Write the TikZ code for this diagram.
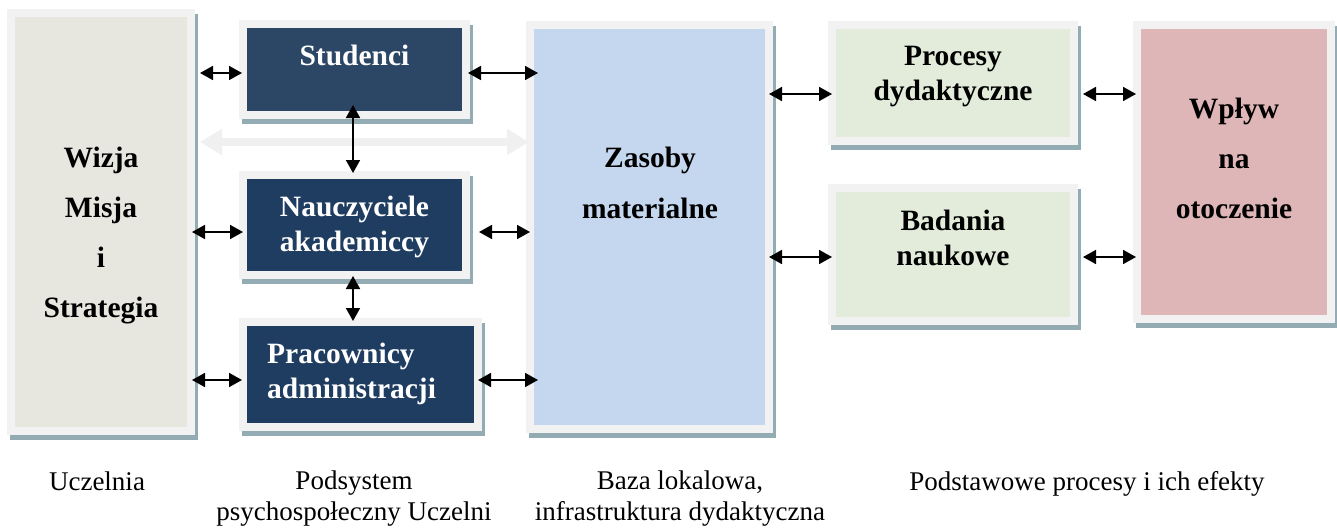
\documentclass[tikz,border=0pt]{standalone}
\usepackage{fontspec}
\setmainfont{Liberation Serif}
\usetikzlibrary{arrows.meta,calc}
\definecolor{framec}{RGB}{242,242,242}
\definecolor{shadowc}{RGB}{147,172,180}
\definecolor{wizjac}{RGB}{231,230,223}
\definecolor{studc}{RGB}{44,70,102}
\definecolor{navyc}{RGB}{31,60,97}
\definecolor{zasobc}{RGB}{197,215,238}
\definecolor{greenc}{RGB}{227,236,218}
\definecolor{pinkc}{RGB}{223,182,183}
\definecolor{widec}{RGB}{240,240,240}
\begin{document}
\begin{tikzpicture}[x=1pt,y=-1pt,
  box/.style={rectangle, draw=framec, line width=8pt, inner sep=0pt,
    preaction={draw=shadowc, fill=shadowc, line width=8pt,
      transform canvas={shift={(3pt,-5pt)}}}},
  conn/.style={line width=1.8pt, {Triangle[length=13pt,width=14pt]}-{Triangle[length=13pt,width=14pt]}},
  widearrow/.style={draw=widec, line width=8pt, {Triangle[length=22pt,width=25pt]}-{Triangle[length=22pt,width=25pt]}},
  blbl/.style={font=\bfseries\fontsize{29.5}{35}\selectfont, align=center, anchor=base, inner sep=0pt},
  tlbl/.style={font=\bfseries\fontsize{29.5}{50}\selectfont, align=center, anchor=base, inner sep=0pt},
  wlbl/.style={blbl, text=white},
  nlbl/.style={font=\fontsize{27}{31}\selectfont, align=center, anchor=base, inner sep=0pt}
]
\useasboundingbox (0,0) rectangle (1337,527);

% boxes
\node[box, fill=wizjac, minimum width=180pt, minimum height=418pt] (wizja) at (101,222) {};
\node[box, fill=studc, minimum width=223pt, minimum height=91pt] (studenci) at (354.5,69.5) {};
\node[box, fill=navyc, minimum width=223pt, minimum height=100pt] (naucz) at (354.5,225) {};
\node[box, fill=navyc, minimum width=235pt, minimum height=105pt] (prac) at (360.5,374.5) {};
\node[box, fill=zasobc, minimum width=239pt, minimum height=404pt] (zasoby) at (649.5,227) {};
\node[box, fill=greenc, minimum width=242pt, minimum height=116pt] (procesy) at (953,83) {};
\node[box, fill=greenc, minimum width=242pt, minimum height=133pt] (badania) at (953,254.5) {};
\node[box, fill=pinkc, minimum width=194pt, minimum height=294pt] (wplyw) at (1234,172) {};

% texts in boxes (anchor=base = baseline of last line)
\node[tlbl] (t-wizja) at (101,317) {Wizja\\Misja\\i\\Strategia};
\node[wlbl] (t-stud) at (354.5,66) {Studenci};
\node[wlbl] (t-naucz) at (354.5,251) {Nauczyciele\\akademiccy};
\node[wlbl, align=left, anchor=base west] (t-prac) at (267,398) {Pracownicy\\administracji};
\node[tlbl, font=\bfseries\fontsize{29.5}{51}\selectfont] (t-zasoby) at (650,218) {Zasoby\\materialne};
\node[blbl] (t-procesy) at (953,100) {Procesy\\dydaktyczne};
\node[blbl] (t-badania) at (953,265) {Badania\\naukowe};
\node[tlbl] (t-wplyw) at (1234,218) {Wpływ\\na\\otoczenie};

% bottom labels
\node[nlbl] (l-uczelnia) at (97,490) {Uczelnia};
\node[nlbl] (l-podsys) at (354,520) {Podsystem\\psychospołeczny Uczelni};
\node[nlbl] (l-baza) at (680,520) {Baza lokalowa,\\infrastruktura dydaktyczna};
\node[nlbl] (l-procesy) at (1087,490) {Podstawowe procesy i ich efekty};

% wide light arrow
\draw[widearrow] ($(wizja.east |- 0,142)+(5,0)$) -- ($(zasoby.west |- 0,142)+(3,0)$);

% connectors
\draw[conn] ($(wizja.east |- 0,73)+(5,0)$) -- ($(studenci.west |- 0,73)+(3,0)$);
\draw[conn] ($(studenci.east |- 0,73)+(-2,0)$) -- ($(zasoby.west |- 0,73)+(12,0)$);
\draw[conn] ($(studenci.south)+(-1.5,-14)$) -- ($(naucz.north)+(-1.5,2)$);
\draw[conn] ($(wizja.east |- 0,232)+(-3,0)$) -- ($(naucz.west |- 0,232)+(4,0)$);
\draw[conn] ($(naucz.east |- 0,232)+(9,0)$) -- ($(zasoby.west |- 0,232)+(4,0)$);
\draw[conn] ($(naucz.south)+(-1.5,-3)$) -- ($(prac.north -| naucz.south)+(-1.5,3)$);
\draw[conn] ($(wizja.east |- 0,380)+(-3,0)$) -- ($(prac.west |- 0,380)+(3,0)$);
\draw[conn] ($(prac.east |- 0,380)+(-4,0)$) -- ($(zasoby.west |- 0,380)+(12,0)$);
\draw[conn] ($(zasoby.east |- 0,94)+(-4,0)$) -- ($(procesy.west |- 0,94)+(4,0)$);
\draw[conn] ($(procesy.east |- 0,94)+(5,0)$) -- ($(wplyw.west |- 0,94)+(3,0)$);
\draw[conn] ($(zasoby.east |- 0,257)+(-4,0)$) -- ($(badania.west |- 0,257)+(4,0)$);
\draw[conn] ($(badania.east |- 0,257)+(5,0)$) -- ($(wplyw.west |- 0,257)+(3,0)$);
\end{tikzpicture}
\end{document}
